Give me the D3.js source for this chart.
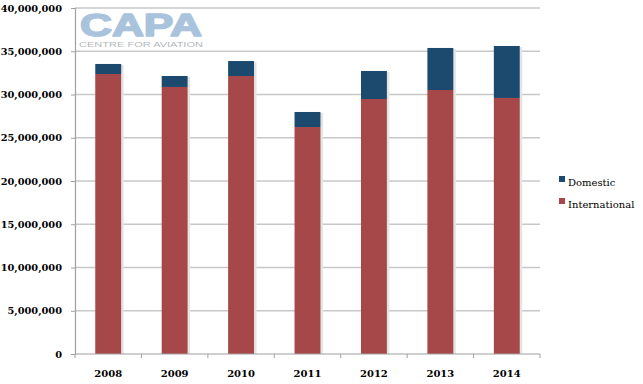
<!DOCTYPE html>
<html>
<head>
<meta charset="utf-8">
<script src="https://cdn.jsdelivr.net/npm/d3@7"></script>
<style>
  body { margin: 0; background: #fff; }
  svg { display: block; }
</style>
</head>
<body>
<svg width="643" height="384"></svg>
<script>
// passenger numbers by year
const years = ['2008', '2009', '2010', '2011', '2012', '2013', '2014'];
const international = [32370000, 30870000, 32140000, 26240000, 29480000, 30520000, 29600000];
const domestic = [1160000, 1270000, 1730000, 1740000, 3240000, 4860000, 6010000];
const yTicks = [0, 5000000, 10000000, 15000000, 20000000, 25000000, 30000000, 35000000, 40000000];
const seriesNames = ['Domestic', 'International'];
const colors = {Domestic: '#1c4a6e', International: '#a6474a'};

const svg = d3.select('svg');
const plotLeft = 75, plotRight = 540, plotTop = 8, plotBottom = 354;

const x = d3.scaleBand().domain(years).range([plotLeft, plotRight]).paddingInner(0.61).paddingOuter(0.305);
const xTick = d3.scaleLinear().domain([0, years.length]).range([plotLeft, plotRight]);
const y = d3.scaleLinear().domain([0, 40000000]).range([plotBottom, plotTop]);

// gridlines
svg.append('g')
  .selectAll('line')
  .data(yTicks.slice(1))
  .enter().append('line')
  .attr('x1', plotLeft).attr('x2', plotRight)
  .attr('y1', d => y(d)).attr('y2', d => y(d))
  .attr('stroke', '#c8c8c8').attr('stroke-width', 1.6);

// logo watermark
const logo = svg.append('g');
logo.append('text')
  .attr('x', 80).attr('y', 35.5)
  .attr('textLength', 122).attr('lengthAdjust', 'spacingAndGlyphs')
  .attr('font-family', 'Liberation Sans, Arial, sans-serif')
  .attr('font-weight', 'bold').attr('font-size', 32)
  .attr('fill', '#a9c3dd')
  .attr('stroke', '#a9c3dd').attr('stroke-width', 1.6).attr('stroke-linejoin', 'round')
  .text('CAPA');
logo.append('text')
  .attr('x', 79).attr('y', 46.5)
  .attr('textLength', 124).attr('lengthAdjust', 'spacingAndGlyphs')
  .attr('font-family', 'Liberation Sans, Arial, sans-serif')
  .attr('font-size', 7.5)
  .attr('fill', '#b4b8bc')
  .text('CENTRE FOR AVIATION');

// stacked bars
const stackData = years.map((yr, i) => ({year: yr, International: international[i], Domestic: domestic[i]}));
const stacked = d3.stack().keys(['International', 'Domestic'])(stackData);

// slight shadow on bars
svg.append('g')
  .selectAll('rect')
  .data(stackData)
  .enter().append('rect')
  .attr('x', d => x(d.year) + 1.5)
  .attr('y', d => y(d.International + d.Domestic) + 1)
  .attr('width', x.bandwidth() + 1)
  .attr('height', d => plotBottom - y(d.International + d.Domestic) - 1)
  .attr('fill', '#e4e4e4');

svg.append('g')
  .selectAll('g')
  .data(stacked)
  .enter().append('g')
  .attr('fill', s => colors[s.key])
  .selectAll('rect')
  .data(s => s)
  .enter().append('rect')
  .attr('x', d => x(d.data.year))
  .attr('y', d => y(d[1]))
  .attr('width', x.bandwidth())
  .attr('height', d => y(d[0]) - y(d[1]));

const serif = 'DejaVu Serif, serif';

// y axis
const yAxis = svg.append('g')
  .attr('transform', `translate(${plotLeft},0)`)
  .call(d3.axisLeft(y).tickValues(yTicks).tickSize(4).tickPadding(9).tickFormat(d3.format(',')));
yAxis.select('.domain').attr('stroke', '#a0a0a0').attr('stroke-width', 1.2);
yAxis.selectAll('.tick line').attr('stroke', '#a0a0a0');
yAxis.selectAll('text')
  .attr('font-family', serif).attr('font-weight', 'bold').attr('font-size', 9.8)
  .attr('fill', '#000');

// x axis
const xAxis = svg.append('g')
  .attr('transform', `translate(0,${plotBottom})`);
xAxis.append('line')
  .attr('x1', plotLeft).attr('x2', plotRight)
  .attr('stroke', '#a0a0a0').attr('stroke-width', 1.2);
xAxis.selectAll('.xt')
  .data(d3.range(years.length + 1))
  .enter().append('line')
  .attr('x1', d => xTick(d)).attr('x2', d => xTick(d))
  .attr('y1', 0).attr('y2', 4)
  .attr('stroke', '#a0a0a0');
xAxis.selectAll('text')
  .data(years)
  .enter().append('text')
  .attr('x', d => x(d) + x.bandwidth() / 2)
  .attr('y', 23)
  .attr('text-anchor', 'middle')
  .attr('font-family', serif).attr('font-weight', 'bold').attr('font-size', 10)
  .text(d => d);

// legend
const legend = svg.append('g')
  .selectAll('g')
  .data(seriesNames)
  .enter().append('g')
  .attr('transform', (d, i) => `translate(559,${176 + i * 22})`);
legend.append('rect')
  .attr('width', 6).attr('height', 6)
  .attr('fill', d => colors[d]);
legend.append('text')
  .attr('x', 9).attr('y', 10)
  .attr('font-family', serif).attr('font-size', 10)
  .text(d => d);
</script>
</body>
</html>
